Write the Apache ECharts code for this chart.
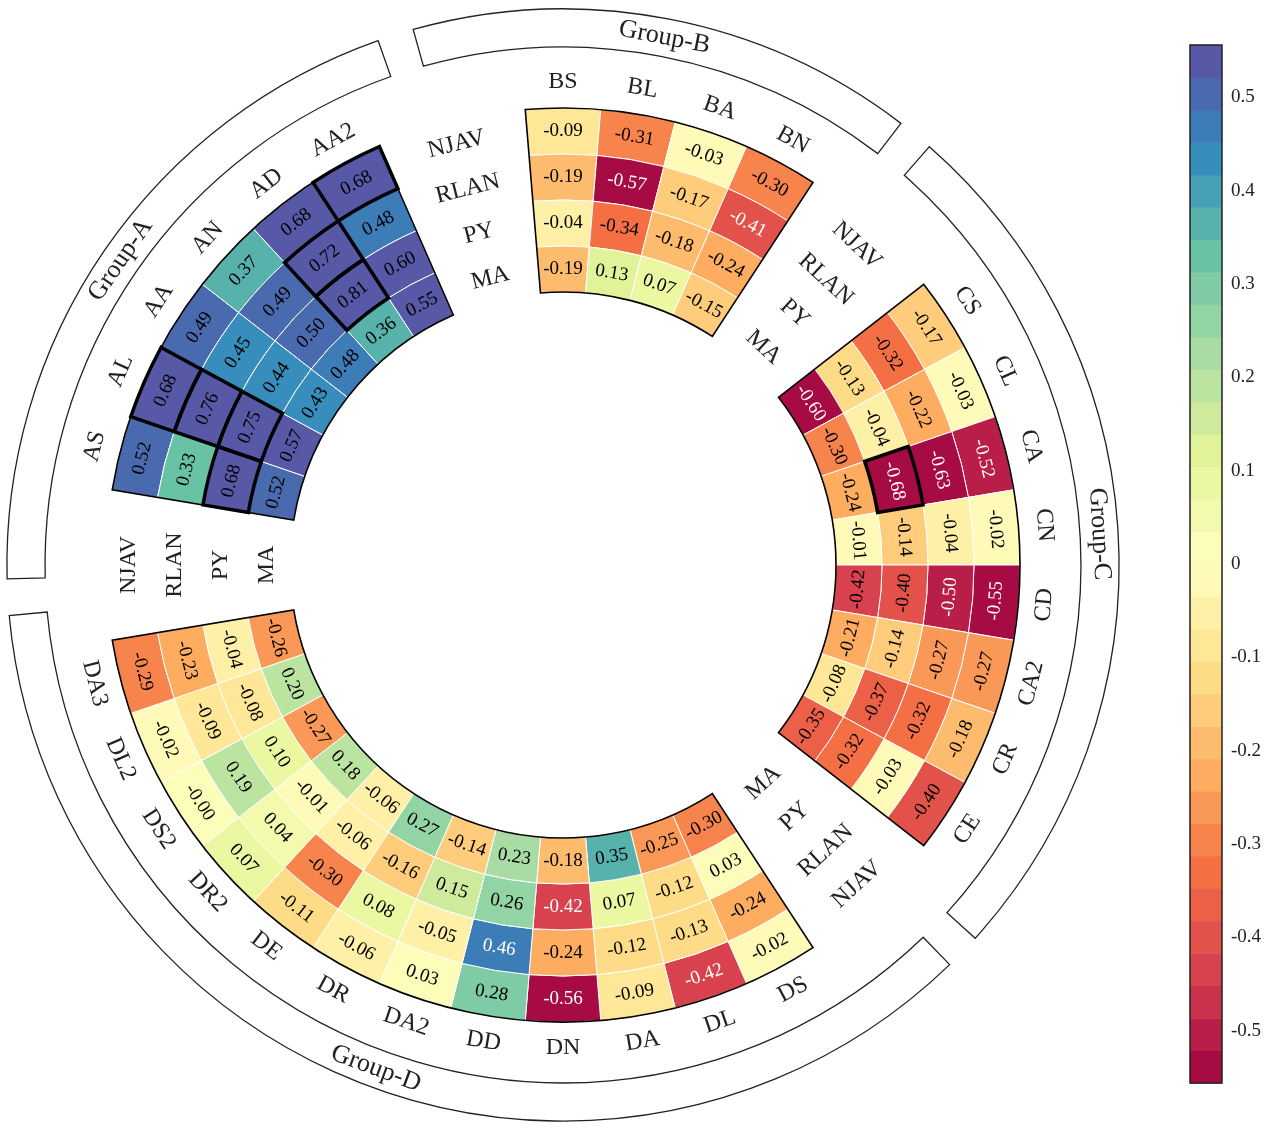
<!DOCTYPE html>
<html><head><meta charset="utf-8">
<script src="https://cdn.jsdelivr.net/npm/echarts@6/dist/echarts.min.js"></script>
<style>html,body{margin:0;padding:0;background:#fff}#c{width:1275px;height:1127px}</style>
</head><body><div id="c"></div>
<script>
const groupNames = ['Group-A','Group-B','Group-C','Group-D'];
const rowNames = ['NJAV','RLAN','PY','MA'];
const colsA = ['AS','AL','AA','AN','AD','AA2'];
const colsB = ['BS','BL','BA','BN'];
const colsC = ['CS','CL','CA','CN','CD','CA2','CR','CE'];
const colsD = ['DS','DL','DA','DN','DD','DA2','DR','DE','DR2','DS2','DL2','DA3'];
// values per column: [NJAV, RLAN, PY, MA]
const valsA = [[0.52,0.33,0.68,0.52],[0.68,0.76,0.75,0.57],[0.49,0.45,0.44,0.43],[0.37,0.49,0.50,0.48],[0.68,0.72,0.81,0.36],[0.68,0.48,0.60,0.55]];
const valsB = [[-0.09,-0.19,-0.04,-0.19],[-0.31,-0.57,-0.34,0.13],[-0.03,-0.17,-0.18,0.07],[-0.30,-0.41,-0.24,-0.15]];
const valsC = [[-0.17,-0.32,-0.13,-0.60],[-0.03,-0.22,-0.04,-0.30],[-0.52,-0.63,-0.68,-0.24],[-0.02,-0.04,-0.14,-0.01],[-0.55,-0.50,-0.40,-0.42],[-0.27,-0.27,-0.14,-0.21],[-0.18,-0.32,-0.37,-0.08],[-0.40,-0.03,-0.32,-0.35]];
const valsD = [[-0.02,-0.24,0.03,-0.30],[-0.42,-0.13,-0.12,-0.25],[-0.09,-0.12,0.07,0.35],[-0.56,-0.24,-0.42,-0.18],[0.28,0.46,0.26,0.23],[0.03,-0.05,0.15,-0.14],[-0.06,0.08,-0.16,0.27],[-0.11,-0.30,-0.06,-0.06],[0.07,0.04,-0.01,0.18],[-0.00,0.19,0.10,-0.27],[-0.02,-0.09,-0.08,0.20],[-0.29,-0.23,-0.04,-0.26]];
const highlighted = [['AS','PY'],['AL','NJAV'],['AL','RLAN'],['AL','PY'],['AD','RLAN'],['AD','PY'],['AA2','NJAV'],['CA','PY']];
const whiteText = [['BL','RLAN'],['BN','RLAN'],['CS','MA'],['CA','NJAV'],['CA','RLAN'],['CA','PY'],['CD','NJAV'],['CD','RLAN'],['DL','NJAV'],['DN','NJAV'],['DN','PY'],['DD','RLAN']];
const tickVals = [-0.5,-0.4,-0.3,-0.2,-0.1,0,0.1,0.2,0.3,0.4,0.5];
const vmin = -0.556, vmax = 0.556, nBands = 32;

const groupCols = [colsA,colsB,colsC,colsD];
const groupVals = [valsA,valsB,valsC,valsD];
const groupStart = [2,10,16,26];
const NSLOT = 38, R0 = 273/46, RMAX = 557/46;

const spectral = ['#9e0142','#d53e4f','#f46d43','#fdae61','#fee08b','#ffffbf','#e6f598','#abdda4','#66c2a5','#3288bd','#5e4fa2'];
function hex(h){return [parseInt(h.slice(1,3),16),parseInt(h.slice(3,5),16),parseInt(h.slice(5,7),16)];}
function cmap(t){const x=Math.max(0,Math.min(1,t))*10;const i=Math.min(9,Math.floor(x));const f=x-i;const a=hex(spectral[i]),b=hex(spectral[i+1]);return 'rgb('+a.map((v,k)=>Math.round(v+(b[k]-v)*f)).join(',')+')';}
function colorOf(v){const t=(v-vmin)/(vmax-vmin);const bin=Math.max(0,Math.min(nBands-1,Math.floor(t*nBands)));return cmap((bin+0.5)/nBands);}
function has(list,c,r){return list.some(p=>p[0]===c&&p[1]===r);}

const cells=[];
groupCols.forEach((cols,g)=>cols.forEach((c,ci)=>rowNames.forEach((rn,ri)=>{
  const v=groupVals[g][ci][ri];
  cells.push([3-ri, groupStart[g]+ci, v, has(highlighted,c,rn)?1:0, has(whiteText,c,rn)?1:0]);
})));

const FONT='"Liberation Serif","DejaVu Serif",serif';
function tools(params,api){
  const cs=params.coordSys;
  function P(rv,av){const p=api.coord([rv,av]);const dx=p[0]-cs.cx,dy=p[1]-cs.cy;return {r:Math.hypot(dx,dy),a:Math.atan2(dy,dx),x:p[0],y:p[1]};}
  function sector(r0v,r1v,a0v,a1v,style){const s=P(r0v,a0v),e=P(r1v,a1v);let sa=s.a,ea=e.a;while(ea<sa)ea+=2*Math.PI;
    return {type:'sector',shape:{cx:cs.cx,cy:cs.cy,r0:s.r,r:e.r,startAngle:sa,endAngle:ea,clockwise:true},style:style};}
  function text(rv,av,str,font,fill,extra){const p=P(rv,av);let rot=-p.a-Math.PI/2;while(rot>Math.PI/2+1e-6)rot-=Math.PI;while(rot<=-Math.PI/2+1e-6)rot+=Math.PI;
    return {type:'text',x:p.x,y:p.y,rotation:rot,style:Object.assign({text:str,x:0,y:0,font:font,fill:fill,align:'center',verticalAlign:'middle'},extra||{})};}
  return {P,sector,text};
}
function fmt(v){const s=Math.abs(v).toFixed(2);return (v<0||Object.is(v,-0))?'-'+s:s;}

const labelItems=[];
groupCols.forEach((cols,g)=>{
  cols.forEach((c,ci)=>labelItems.push({kind:'col',g,ci}));
  rowNames.forEach((rn,ri)=>labelItems.push({kind:'row',g,ri}));
  labelItems.push({kind:'bracket',g});
  labelItems.push({kind:'outline',g});
});

const chart=echarts.init(document.getElementById('c'));
chart.setOption({
  animation:false,
  polar:{center:[563,565],radius:[0,557]},
  angleAxis:{type:'value',min:0,max:NSLOT,startAngle:180+360/NSLOT,clockwise:true,show:false},
  radiusAxis:{type:'value',min:0,max:RMAX,show:false},
  grid:{left:1190,top:45,width:32,height:1038},
  xAxis:{type:'value',min:0,max:1,show:false},
  yAxis:{type:'value',min:vmin,max:vmax,position:'right',splitLine:{show:false},
    axisLine:{show:false},
    axisTick:{show:true,length:6,lineStyle:{color:'#222',width:1},customValues:tickVals},
    axisLabel:{show:true,customValues:tickVals,margin:9,fontSize:19,fontFamily:FONT,color:'#222',formatter:v=>String(Math.round(v*10)/10)}},
  series:[
    {type:'custom',coordinateSystem:'polar',z:2,data:cells,
     renderItem:(params,api)=>{const T=tools(params,api);const d=cells[params.dataIndex];
       const rv=R0+d[0],av=d[1];
       return {type:'group',children:[
         T.sector(rv,rv+1,av,av+1,{fill:colorOf(d[2]),stroke:'#fff',lineWidth:1}),
         T.text(rv+0.5,av+0.5,fmt(d[2]),'19px '+FONT,d[4]?'#fff':'#000')]};}},
    {type:'custom',coordinateSystem:'polar',z:3,data:labelItems.map((x,i)=>[0,i]),
     renderItem:(params,api)=>{const T=tools(params,api);const it=labelItems[params.dataIndex];const g=it.g,gs=groupStart[g],n=groupCols[g].length;
       if(it.kind==='col') return T.text(10.5,gs+it.ci+0.5,groupCols[g][it.ci],'24px '+FONT,'#222');
       if(it.kind==='row') return T.text(R0+(3-it.ri)+0.5,gs-1,rowNames[it.ri],'24px '+FONT,'#222');
       if(it.kind==='outline') return T.sector(R0,R0+4,gs,gs+n,{fill:'none',stroke:'#000',lineWidth:1.6});
       const a0=gs-1.15,a1=gs+n+0.45;
       return {type:'group',children:[
         T.sector(11.26,RMAX-0.02,a0,a1,{fill:'#fff',stroke:'#222',lineWidth:1.3}),
         T.text(11.68,(a0+a1)/2,groupNames[g],'26px '+FONT,'#222',{backgroundColor:'#fff',padding:[2,4]})]};}},
    {type:'custom',coordinateSystem:'polar',z:4,data:cells.filter(d=>d[3]),
     renderItem:(params,api)=>{const T=tools(params,api);const d=cells.filter(x=>x[3])[params.dataIndex];const rv=R0+d[0];
       return T.sector(rv,rv+1,d[1],d[1]+1,{fill:'none',stroke:'#000',lineWidth:3.5});}},
    {type:'custom',coordinateSystem:'cartesian2d',z:2,data:Array.from({length:nBands},(_,i)=>[0,i]),
     renderItem:(params,api)=>{const i=params.dataIndex;const lo=vmin+(vmax-vmin)*i/nBands,hi=vmin+(vmax-vmin)*(i+1)/nBands;
       const p0=api.coord([0,lo]),p1=api.coord([1,hi]);
       const ch=[{type:'rect',shape:{x:p0[0],y:p1[1],width:p1[0]-p0[0],height:p0[1]-p1[1]+0.5},style:{fill:cmap((i+0.5)/nBands)}}];
       if(i===nBands-1){const b0=api.coord([0,vmin]);ch.push({type:'rect',z2:10,shape:{x:b0[0],y:p1[1],width:p1[0]-b0[0],height:b0[1]-p1[1]},style:{fill:'none',stroke:'#222',lineWidth:1.5}});}
       return {type:'group',children:ch};}}
  ]
});
</script></body></html>
